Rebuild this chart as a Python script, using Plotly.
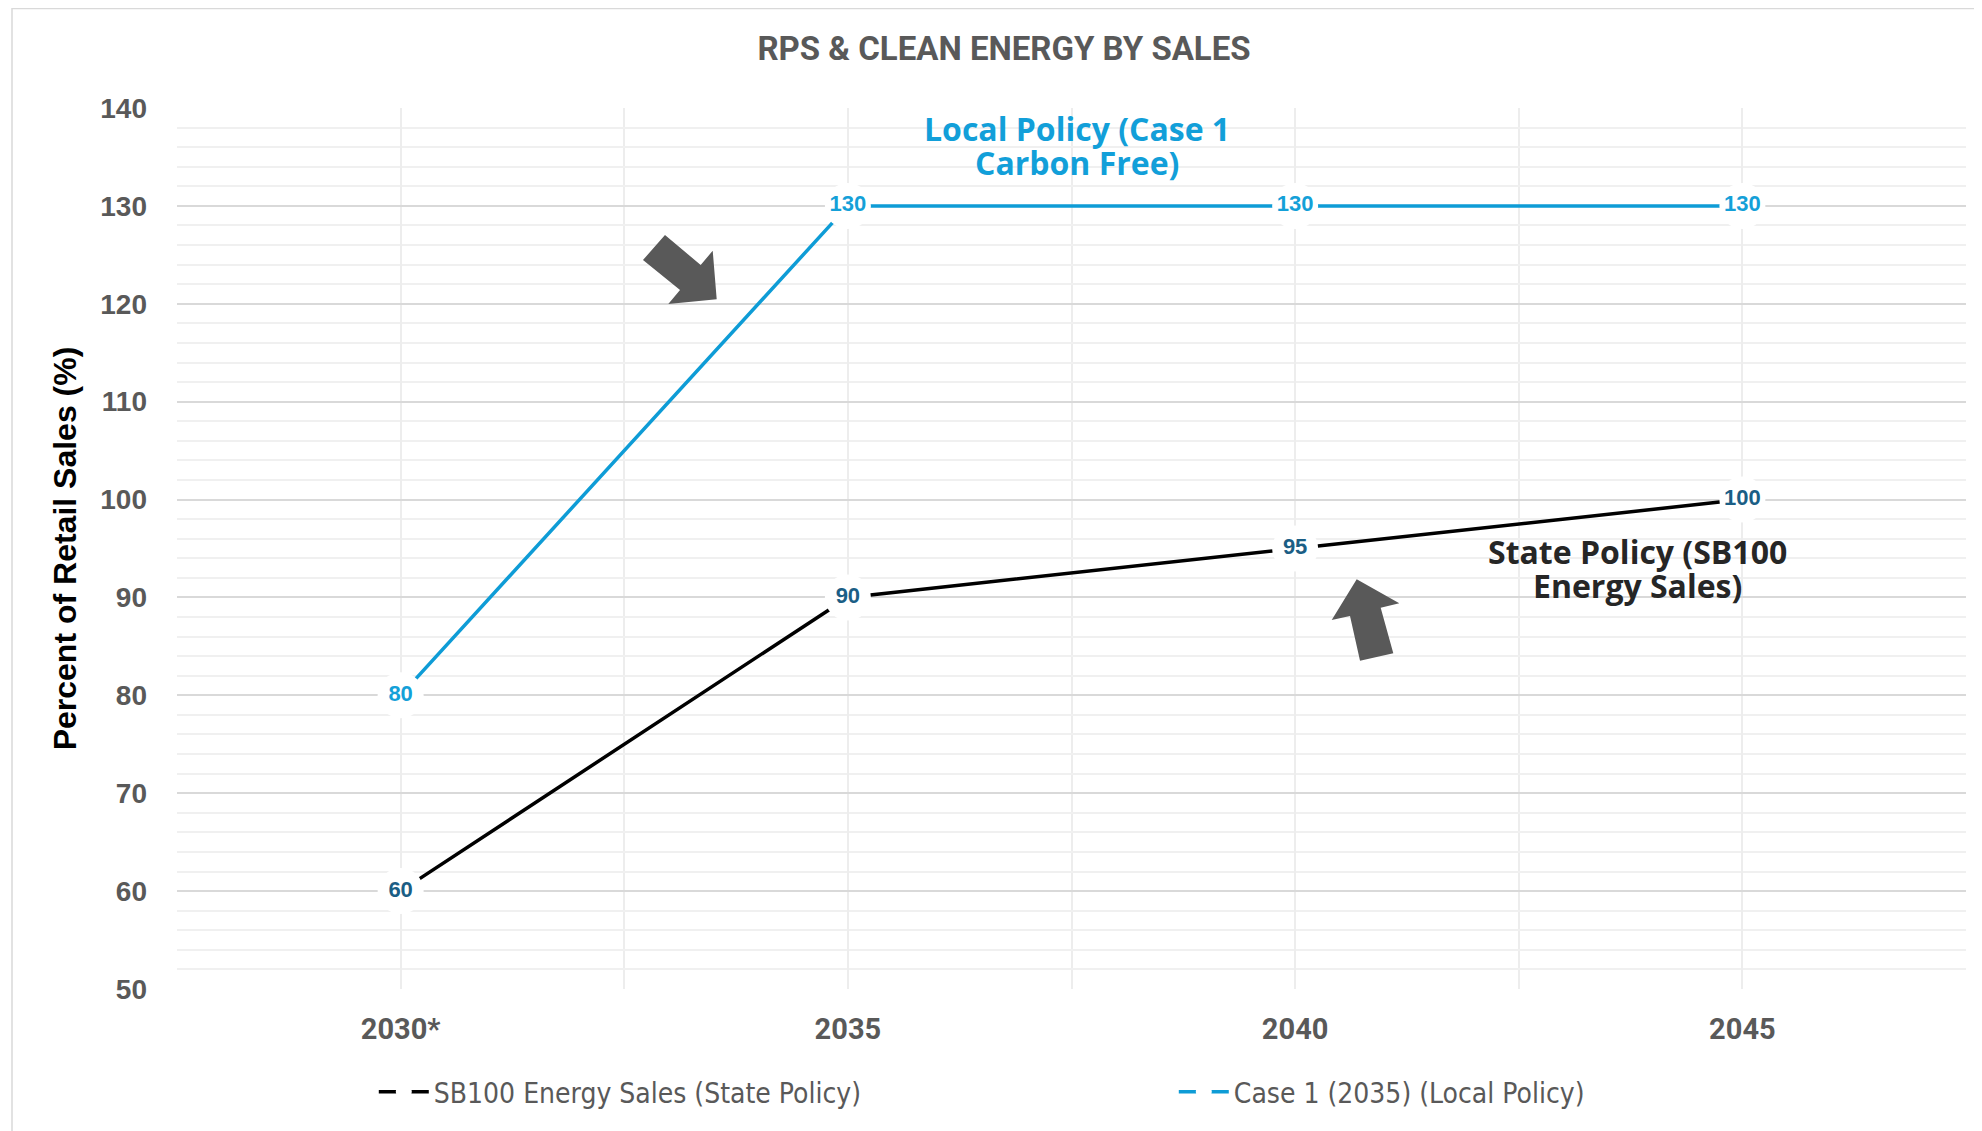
import plotly.graph_objects as go

categories = ["2030*", "2035", "2040", "2045"]
state_policy = [60, 90, 95, 100]
local_policy = [80, 130, 130, 130]
y_min, y_max = 50, 140

OFF = 8  # page body margin
W, H = 1982 - OFF, 1131 - OFF
ML, MT = 177 - OFF, 108 - OFF
MR = W - (1966 - OFF)
MB = H - (989 - OFF)
PW, PH = W - ML - MR, H - MT - MB
x_lo, x_hi = -0.5, len(categories) - 0.5


def px2d(px, py):
    px, py = px - OFF, py - OFF
    return (x_lo + (px - ML) / PW * (x_hi - x_lo),
            y_max - (py - MT) / PH * (y_max - y_min))


def poly(points):
    pts = [px2d(a, b) for a, b in points]
    return "M " + " L ".join(f"{a:.4f},{b:.4f}" for a, b in pts) + " Z"


x_idx = list(range(len(categories)))

fig = go.Figure()
fig.add_trace(go.Scatter(
    x=x_idx, y=state_policy, name="SB100 Energy Sales (State Policy)",
    mode="lines+markers+text",
    line=dict(color="#000000", width=3.5),
    marker=dict(size=46, color="white", line=dict(width=0)),
    text=[str(v) for v in state_policy], textposition="middle center",
    textfont=dict(family="Liberation Sans, Arial", size=22, color="#1B5E85", weight="bold"),
    cliponaxis=False, hoverinfo="skip"))
fig.add_trace(go.Scatter(
    x=x_idx, y=local_policy, name="Case 1 (2035) (Local Policy)",
    mode="lines+markers+text",
    line=dict(color="#0E9CD6", width=3.5),
    marker=dict(size=46, color="white", line=dict(width=0)),
    text=[str(v) for v in local_policy], textposition="middle center",
    textfont=dict(family="Liberation Sans, Arial", size=22, color="#14A0D8", weight="bold"),
    cliponaxis=False, hoverinfo="skip"))

arrow1 = [(643, 260), (665, 235), (700.7, 265), (712.7, 250.7), (716.7, 299.3), (668.3, 304), (680, 290)]
arrow2 = [(1356.7, 579.3), (1399.3, 603.3), (1380.7, 607.7), (1393.3, 653.3), (1360, 660.7), (1350, 616), (1331.7, 620)]

shapes = [
    dict(type="rect", xref="paper", yref="paper", x0=(12 - OFF - ML) / PW, x1=1.03,
         y0=-0.25, y1=1 + (MT - 0.5) / PH, line=dict(color="#D9D9D9", width=1.5), layer="below"),
    dict(type="path", xref="x", yref="y", path=poly(arrow1), fillcolor="#595959", line=dict(width=0)),
    dict(type="path", xref="x", yref="y", path=poly(arrow2), fillcolor="#595959", line=dict(width=0)),
]

lx, ly1 = px2d(1077, 128)
_, ly2 = px2d(1077, 162)
sx, sy1 = px2d(1637, 551)
_, sy2 = px2d(1637, 585)
afont_b = dict(family="Open Sans, Noto Sans", size=32, color="#129FD9", weight="bold")
afont_s = dict(family="Open Sans, Noto Sans", size=32, color="#262626", weight="bold")
annotations = [
    dict(x=lx, y=ly1, text="Local Policy (Case 1", showarrow=False, font=afont_b, xanchor="center", yanchor="middle"),
    dict(x=lx, y=ly2, text="Carbon Free)", showarrow=False, font=afont_b, xanchor="center", yanchor="middle"),
    dict(x=sx, y=sy1, text="State Policy (SB100", showarrow=False, font=afont_s, xanchor="center", yanchor="middle"),
    dict(x=sx, y=sy2, text="Energy Sales)", showarrow=False, font=afont_s, xanchor="center", yanchor="middle"),
]

cond = "Roboto, Liberation Sans Narrow, DejaVu Sans Condensed"
fig.update_layout(
    width=W, height=H,
    margin=dict(l=ML, r=MR, t=MT, b=MB, autoexpand=False),
    paper_bgcolor="white", plot_bgcolor="white",
    title=dict(text="RPS & CLEAN ENERGY BY SALES", x=(1004 - OFF) / W, xanchor="center",
               y=1 - (48 - OFF) / H, yanchor="middle", xref="container", yref="container",
               font=dict(family=cond, size=33, color="#595959", weight="bold")),
    showlegend=True,
    legend=dict(orientation="h", x=0.110, xanchor="left", y=-(1092 - 989) / PH,
                yanchor="middle", entrywidth=735, entrywidthmode="pixels", itemwidth=50,
                font=dict(family="DejaVu Sans Condensed, Liberation Sans Narrow", size=28,
                          color="#595959"),
                itemclick=False, itemdoubleclick=False),
    shapes=shapes,
    annotations=annotations,
)
fig.update_xaxes(
    range=[x_lo, x_hi], tickmode="array", tickvals=x_idx, ticktext=categories,
    tickfont=dict(family=cond, size=29, color="#595959", weight="bold"),
    showgrid=True, gridcolor="#EDEDED", gridwidth=1.5, zeroline=False, showline=False,
    ticks="", ticklabelstandoff=20, automargin=False,
    minor=dict(dtick=0.5, tick0=0, showgrid=True, gridcolor="#EDEDED", gridwidth=1.5, ticks=""),
)
fig.update_yaxes(
    range=[y_min, y_max], dtick=10, tick0=0,
    tickfont=dict(family="Liberation Sans, Arial", size=28, color="#595959", weight="bold"),
    showgrid=True, gridcolor="#D9D9D9", gridwidth=1.5, zeroline=False, showline=False,
    ticks="", ticklabelstandoff=29, automargin=False,
    minor=dict(dtick=2, tick0=0, showgrid=True, gridcolor="#F0F0F0", gridwidth=1.5, ticks=""),
    title=dict(text="Percent of Retail Sales (%)", standoff=14,
               font=dict(family="Liberation Sans, Arial", size=32, color="#000000", weight="bold")),
)

fig.write_html("out.html")
